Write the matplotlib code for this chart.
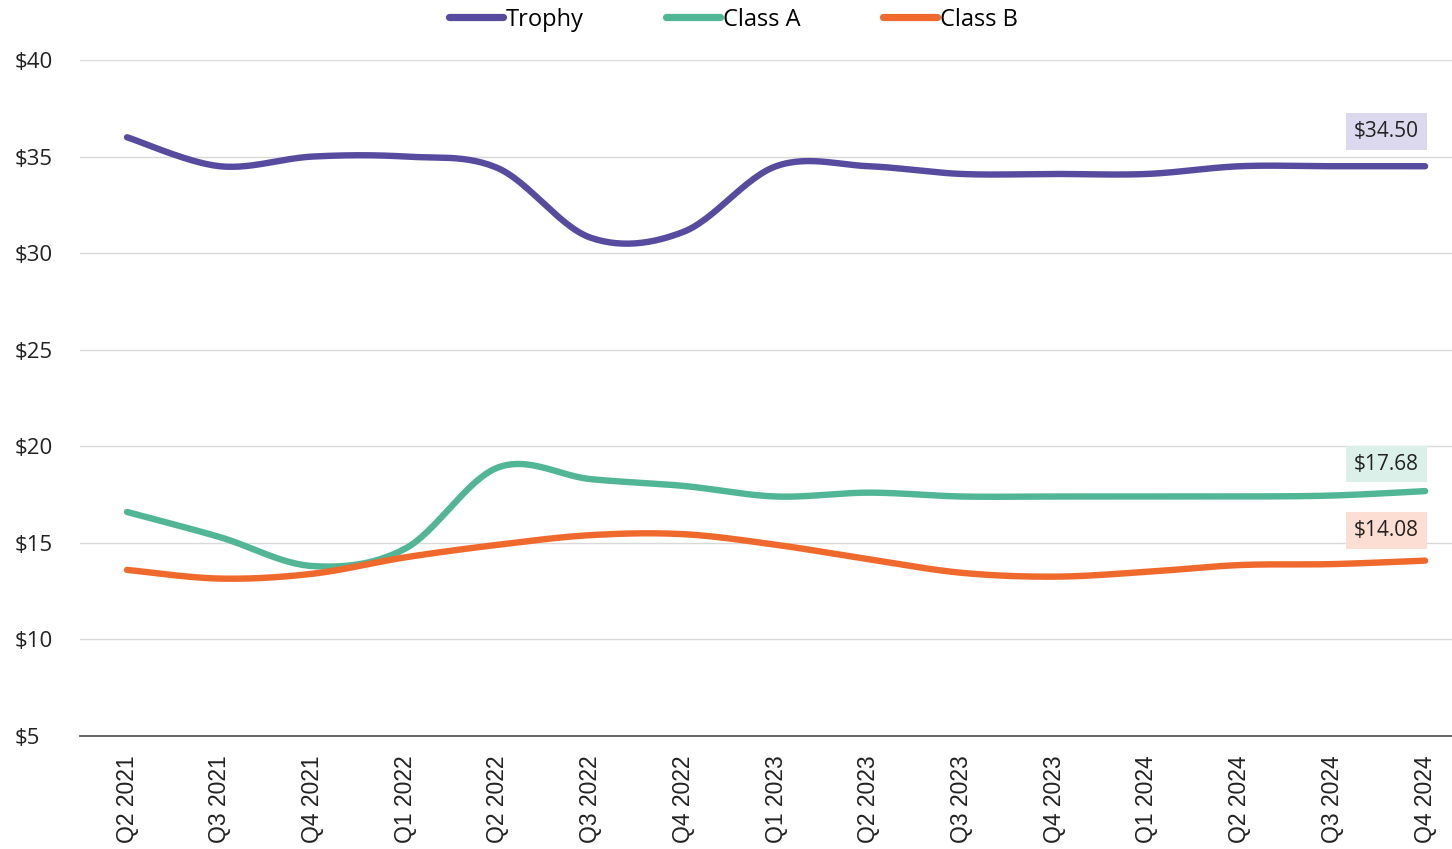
import numpy as np
import matplotlib
matplotlib.use('Agg')
import matplotlib.pyplot as plt

plt.rcParams['font.family'] = ['Open Sans', 'DejaVu Sans']

quarters = ['Q2 2021', 'Q3 2021', 'Q4 2021', 'Q1 2022', 'Q2 2022', 'Q3 2022', 'Q4 2022',
            'Q1 2023', 'Q2 2023', 'Q3 2023', 'Q4 2023', 'Q1 2024', 'Q2 2024', 'Q3 2024', 'Q4 2024']
trophy = [36.0, 34.5, 35.0, 35.0, 34.4, 30.8, 31.1, 34.5, 34.5, 34.1, 34.1, 34.1, 34.5, 34.5, 34.50]
class_a = [16.6, 15.3, 13.8, 14.7, 18.9, 18.3, 17.95, 17.4, 17.6, 17.4, 17.4, 17.4, 17.4, 17.45, 17.68]
class_b = [13.6, 13.15, 13.4, 14.25, 14.9, 15.4, 15.45, 14.9, 14.15, 13.45, 13.25, 13.5, 13.85, 13.9, 14.08]

# name, values, line colour, label box colour, label offset above the end point (pt)
series = [('Trophy', trophy, '#574ba0', '#dcd9ee', 25),
          ('Class A', class_a, '#50b696', '#dcf0ea', 19.5),
          ('Class B', class_b, '#ef692c', '#fcdfd2', 21.5)]


def smooth(x, y, steps=30):
    # bezier curve through the points, control points from neighbours (tension 1/6)
    x = np.asarray(x, float)
    y = np.asarray(y, float)
    px = np.concatenate([[x[0]], x, [x[-1]]])
    py = np.concatenate([[y[0]], y, [y[-1]]])
    xs, ys = [], []
    t = np.linspace(0, 1, steps)
    for i in range(1, len(px) - 2):
        p0 = np.array([px[i], py[i]])
        p3 = np.array([px[i + 1], py[i + 1]])
        c1 = p0 + (p3 - np.array([px[i - 1], py[i - 1]])) / 6
        c2 = p3 - (np.array([px[i + 2], py[i + 2]]) - p0) / 6
        pts = ((1 - t) ** 3)[:, None] * p0 + (3 * (1 - t) ** 2 * t)[:, None] * c1 \
            + (3 * (1 - t) * t ** 2)[:, None] * c2 + (t ** 3)[:, None] * p3
        xs.extend(pts[:, 0])
        ys.extend(pts[:, 1])
    return np.array(xs), np.array(ys)


fig = plt.figure(figsize=(14.52, 8.49), dpi=100)
ax = fig.add_axes([80 / 1452, 1 - 736 / 849, 1 - 80 / 1452, (736 - 60) / 849])

x = np.arange(len(quarters))
for name, vals, col, box, off in series:
    sx, sy = smooth(x, vals)
    ax.plot(sx, sy, color=col, lw=4.6, solid_capstyle='round', label=name)
    ax.annotate('$%.2f' % vals[-1], xy=(x[-1], vals[-1]), xytext=(-28, off),
                textcoords='offset points', ha='center', va='center', fontsize=15,
                color='#222222',
                bbox=dict(boxstyle='square,pad=0.38', fc=box, ec='none'))

ax.set_ylim(5, 40)
ax.set_xlim(-0.507, 14.29)
ax.set_yticks(range(5, 41, 5))
ax.set_yticklabels(['$%d' % v for v in range(5, 41, 5)], fontsize=16, color='#222222')
ax.set_xticks(x)
ax.set_xticklabels(quarters, rotation=90, fontsize=16.5, color='#222222',
                   family=['Liberation Sans', 'DejaVu Sans'])
ax.tick_params(axis='both', length=0)
ax.tick_params(axis='x', pad=14)
for lbl in ax.get_yticklabels():
    lbl.set_horizontalalignment('left')
ax.tick_params(axis='y', pad=47)

ax.grid(axis='y', color='#d9d9d9', lw=1)
ax.set_axisbelow(True)
for s in ['top', 'right', 'left']:
    ax.spines[s].set_visible(False)
ax.spines['bottom'].set_color('#595959')
ax.spines['bottom'].set_linewidth(1.3)

leg = fig.legend(loc='upper center', bbox_to_anchor=(0.505, 1.016), ncol=3, frameon=False,
                 fontsize=17, handlelength=2.3, handletextpad=0.1, columnspacing=3.5)
for h in leg.get_lines():
    h.set_linewidth(5.2)

fig.savefig('out.png', dpi=100)
